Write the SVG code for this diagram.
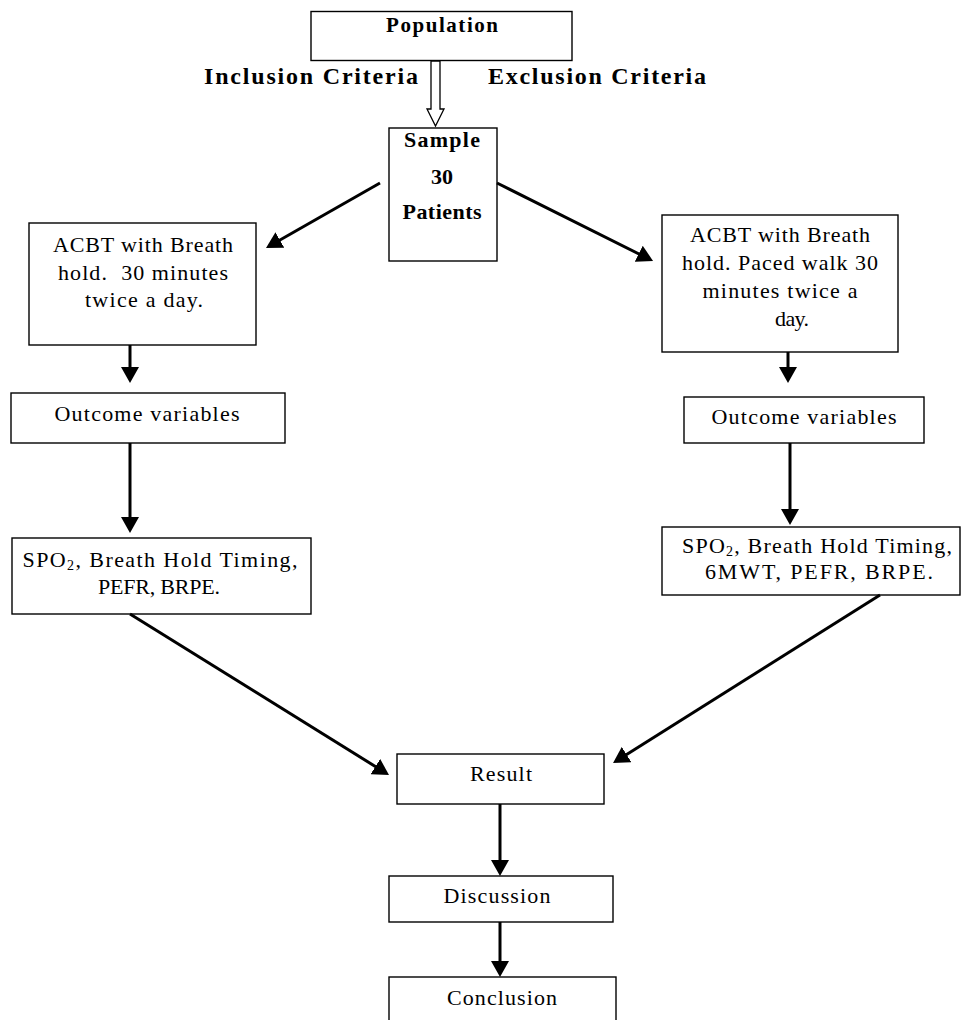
<svg xmlns="http://www.w3.org/2000/svg" width="961" height="1020" viewBox="0 0 961 1020">
<style>
.box{fill:#fff;stroke:#000;stroke-width:1.4}
.t{font-family:"Liberation Serif","Times New Roman",serif;font-size:22px;fill:#000;text-anchor:middle}
.b{font-family:"Liberation Serif","Times New Roman",serif;font-weight:bold;fill:#000;text-anchor:middle}
.c{stroke:#000;stroke-width:3;fill:none;marker-end:url(#ah)}
</style>
<defs>
<marker id="ah" viewBox="0 0 16 18" refX="6" refY="9" markerWidth="16" markerHeight="18" markerUnits="userSpaceOnUse" orient="auto">
<path d="M0,0 L16,9 L0,18 Z" fill="#000"/>
</marker>
</defs>
<rect width="961" height="1020" fill="#fff"/>

<g id="population">
<rect class="box" x="311" y="11.5" width="261" height="49"/>
<text class="b" x="442" y="32" font-size="21" textLength="112">Population</text>
</g>
<g id="criteria">
<text class="b" x="311" y="84" font-size="24" textLength="214">Inclusion Criteria</text>
<text class="b" x="597" y="84" font-size="24" textLength="218">Exclusion Criteria</text>
</g>
<g id="sample">
<rect class="box" x="389" y="128" width="108" height="133"/>
<text class="b" x="442" y="147" font-size="22" textLength="76">Sample</text>
<text class="b" x="442" y="184" font-size="22">30</text>
<text class="b" x="442" y="219" font-size="22" textLength="79">Patients</text>
</g>
<g id="acbt-left">
<rect class="box" x="29" y="223" width="227" height="122"/>
<text class="t" x="143" y="252" textLength="180">ACBT with Breath</text>
<text class="t" x="143" y="280" textLength="170" xml:space="preserve">hold.  30 minutes</text>
<text class="t" x="144" y="307" textLength="118">twice a day.</text>
</g>
<g id="acbt-right">
<rect class="box" x="662" y="215" width="236" height="137"/>
<text class="t" x="780" y="242" textLength="180">ACBT with Breath</text>
<text class="t" x="780" y="270" textLength="196">hold. Paced walk 30</text>
<text class="t" x="780" y="298" textLength="155">minutes twice a</text>
<text class="t" x="792" y="326" textLength="34">day.</text>
</g>
<g id="outcome-left">
<rect class="box" x="11" y="393" width="274" height="50"/>
<text class="t" x="147" y="421" textLength="185">Outcome variables</text>
</g>
<g id="outcome-right">
<rect class="box" x="684" y="397" width="240" height="46"/>
<text class="t" x="804" y="424" textLength="185">Outcome variables</text>
</g>
<g id="measures-left">
<rect class="box" x="12" y="538" width="299" height="76"/>
<text class="t" x="160" y="567" textLength="275">SPO<tspan font-size="14" dy="3">2</tspan><tspan dy="-3">, Breath Hold Timing,</tspan></text>
<text class="t" x="159" y="594" textLength="122">PEFR, BRPE.</text>
</g>
<g id="measures-right">
<rect class="box" x="662" y="527" width="298" height="68"/>
<text class="t" x="817" y="553" textLength="270">SPO<tspan font-size="14" dy="3">2</tspan><tspan dy="-3">, Breath Hold Timing,</tspan></text>
<text class="t" x="819" y="579" textLength="228">6MWT, PEFR, BRPE.</text>
</g>
<g id="result">
<rect class="box" x="397" y="754" width="207" height="50"/>
<text class="t" x="501" y="781" textLength="62">Result</text>
</g>
<g id="discussion">
<rect class="box" x="389" y="876" width="224" height="46"/>
<text class="t" x="497" y="903" textLength="107">Discussion</text>
</g>
<g id="conclusion">
<rect class="box" x="389" y="977" width="227" height="60"/>
<text class="t" x="502" y="1005" textLength="110">Conclusion</text>
</g>

<g id="connectors">
<path d="M431,61 L440,61 L440,109 L444,109 L435.5,126 L427,109 L431,109 Z" fill="#fff" stroke="#000" stroke-width="1.3"/>
<line class="c" x1="380" y1="183" x2="274.7" y2="243"/>
<line class="c" x1="497" y1="183" x2="644.1" y2="256.5"/>
<line class="c" x1="130" y1="345" x2="130" y2="373"/>
<line class="c" x1="130" y1="443" x2="130" y2="523"/>
<line class="c" x1="788" y1="352" x2="788" y2="373"/>
<line class="c" x1="790" y1="443" x2="790" y2="515"/>
<line class="c" x1="130" y1="614" x2="380.5" y2="769.7"/>
<line class="c" x1="880" y1="595" x2="621.5" y2="757.7"/>
<line class="c" x1="500" y1="804" x2="500" y2="866"/>
<line class="c" x1="500" y1="922" x2="500" y2="967"/>
</g>
</svg>
